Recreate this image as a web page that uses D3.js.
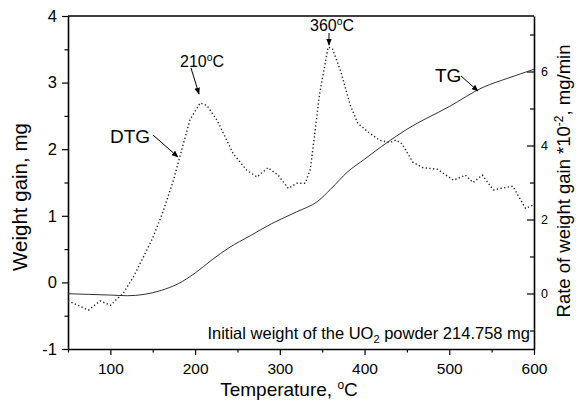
<!DOCTYPE html>
<html><head><meta charset="utf-8">
<script src="https://cdn.jsdelivr.net/npm/d3@7"></script>
<style>
html,body{margin:0;padding:0;background:#fff;}
svg{display:block;font-family:"Liberation Sans",Arial,sans-serif;}
</style></head>
<body>
<svg id="c" width="576" height="402"></svg>
<script>
// TG curve: temperature (°C) and weight gain (mg), left axis
const tgTemp   = [50, 75, 100, 120, 140, 160, 180, 200, 220, 240, 265, 290, 320, 345, 360, 380, 400, 420, 450, 500, 540, 570, 600];
const tgWeight = [-0.17, -0.18, -0.19, -0.2, -0.18, -0.12, -0.02, 0.14, 0.34, 0.52, 0.7, 0.88, 1.06, 1.22, 1.4, 1.66, 1.85, 2.04, 2.3, 2.64, 2.93, 3.07, 3.2];
// DTG curve: temperature (°C) and rate of weight gain (*10^-2 mg/min), right axis
const dtgTemp = [50, 60, 74, 88, 100, 110, 115, 127, 143, 150, 162, 175, 182, 194, 206, 214, 226, 245, 261, 273, 286, 298, 310, 320, 330, 336, 347, 357, 362, 372, 383, 392, 405, 418, 430, 437, 444, 457, 469, 486, 505, 519, 528, 539, 552, 575, 590, 600];
const dtgRate = [-0.2, -0.3, -0.45, -0.2, -0.32, -0.1, 0, 0.44, 1.17, 1.5, 2.2, 3.1, 3.7, 4.7, 5.15, 5.08, 4.68, 3.78, 3.33, 3.15, 3.4, 3.2, 2.84, 2.98, 2.98, 3.35, 5.4, 6.66, 6.62, 6.0, 5.1, 4.6, 4.35, 4.14, 4.08, 4.15, 4.05, 3.55, 3.4, 3.36, 3.06, 3.2, 3.0, 3.2, 2.8, 2.9, 2.3, 2.4];
// Tick values
const xTicks = [100, 200, 300, 400, 500, 600];
const xMinor = [50, 150, 250, 350, 450, 550];
const yLeftTicks = [-1, 0, 1, 2, 3, 4];
const yLeftMinor = [-0.5, 0.5, 1.5, 2.5, 3.5];
const yRightTicks = [0, 2, 4, 6];
const yRightMinor = [-1, 1, 3, 5, 7];

const svg = d3.select("#c");
const L = 68, R = 534, T = 16, B = 349;
const x = d3.scaleLinear().domain([50, 600]).range([L, R]);
const yL = d3.scaleLinear().domain([-1, 4]).range([B, T]);
const yR = d3.scaleLinear().domain([-1.5, 7.5]).range([B, T]);

function styleAxis(g, fs) {
  g.selectAll("path.domain").attr("stroke", "#000").attr("stroke-width", 1.6);
  g.selectAll(".tick line").attr("stroke", "#000").attr("stroke-width", 1.2);
  g.selectAll(".tick text").attr("font-size", fs).attr("fill", "#000").attr("font-family", "Liberation Sans, Arial, sans-serif");
}

// minor ticks
svg.append("g").attr("transform", `translate(0,${B})`)
  .call(d3.axisBottom(x).tickValues(xMinor).tickSize(3.5).tickSizeOuter(0).tickFormat(""))
  .call(g => { g.select("path.domain").remove(); g.selectAll(".tick line").attr("stroke","#000").attr("stroke-width",1.2); });
svg.append("g").attr("transform", `translate(${L},0)`)
  .call(d3.axisLeft(yL).tickValues(yLeftMinor).tickSize(3.5).tickSizeOuter(0).tickFormat(""))
  .call(g => { g.select("path.domain").remove(); g.selectAll(".tick line").attr("stroke","#000").attr("stroke-width",1.2); });
svg.append("g").attr("transform", `translate(${R},0)`)
  .call(d3.axisRight(yR).tickValues(yRightMinor).tickSize(-4).tickSizeOuter(0).tickFormat(""))
  .call(g => { g.select("path.domain").remove(); g.selectAll(".tick line").attr("stroke","#000").attr("stroke-width",1.2); });

// major axes
const xAxis = svg.append("g").attr("transform", `translate(0,${B})`)
  .call(d3.axisBottom(x).tickValues(xTicks).tickSize(6).tickSizeOuter(0).tickPadding(8));
styleAxis(xAxis, 15.5);
const yAxisL = svg.append("g").attr("transform", `translate(${L},0)`)
  .call(d3.axisLeft(yL).tickValues(yLeftTicks).tickSize(6).tickSizeOuter(0).tickPadding(5)
    .tickFormat(d => d < 0 ? "-" + Math.abs(d) : d));
styleAxis(yAxisL, 16.5);
const yAxisR = svg.append("g").attr("transform", `translate(${R},0)`)
  .call(d3.axisRight(yR).tickValues(yRightTicks).tickSize(-7).tickSizeOuter(0).tickPadding(7));
styleAxis(yAxisR, 12.5);

// top frame line
svg.append("line").attr("x1", L).attr("x2", R).attr("y1", T).attr("y2", T)
  .attr("stroke", "#000").attr("stroke-width", 1.6);

// curves
const tgData = tgTemp.map((t, i) => [t, tgWeight[i]]);
const dtgData = dtgTemp.map((t, i) => [t, dtgRate[i]]);
svg.append("path").datum(tgData)
  .attr("d", d3.line().x(d => x(d[0])).y(d => yL(d[1])).curve(d3.curveMonotoneX))
  .attr("fill", "none").attr("stroke", "#333").attr("stroke-width", 1);
svg.append("path").datum(dtgData)
  .attr("d", d3.line().x(d => x(d[0])).y(d => yR(d[1])))
  .attr("fill", "none").attr("stroke", "#222").attr("stroke-width", 1.4)
  .attr("stroke-dasharray", "1.3,2.4");

// arrow marker
svg.append("defs").append("marker").attr("id", "ah").attr("viewBox", "0 0 10 10")
  .attr("refX", 9).attr("refY", 5).attr("markerWidth", 7).attr("markerHeight", 7)
  .attr("markerUnits", "userSpaceOnUse").attr("orient", "auto")
  .append("path").attr("d", "M0,1 L10,5 L0,9 Z").attr("fill", "#000");

function arrow(x1, y1, x2, y2) {
  svg.append("line").attr("x1", x1).attr("y1", y1).attr("x2", x2).attr("y2", y2)
    .attr("stroke", "#000").attr("stroke-width", 1).attr("marker-end", "url(#ah)");
}

// annotations
const ff = "Liberation Sans, Arial, sans-serif";
function degLabel(xp, yp, num, fs) {
  const t = svg.append("text").attr("x", xp).attr("y", yp).attr("font-size", fs).attr("font-family", ff).attr("fill", "#000");
  t.append("tspan").text(num);
  t.append("tspan").attr("dy", -6).attr("font-size", fs * 0.65).text("o");
  t.append("tspan").attr("dy", 6).text("C");
}
degLabel(180, 67, "210", 16);
degLabel(310, 31, "360", 16);
arrow(191, 68, 199, 94);
arrow(329, 33, 329, 45);

svg.append("text").attr("x", 110).attr("y", 143).attr("font-size", 19).attr("font-family", ff).text("DTG");
arrow(153, 135, 178, 157);
svg.append("text").attr("x", 435).attr("y", 82).attr("font-size", 19).attr("font-family", ff).text("TG");
arrow(461, 76, 478, 91);

// initial weight note
const note = svg.append("text").attr("x", 530).attr("y", 339).attr("text-anchor", "end")
  .attr("font-size", 16.5).attr("font-family", ff);
note.append("tspan").text("Initial weight of the UO");
note.append("tspan").attr("dy", 3.5).attr("font-size", 11).text("2");
note.append("tspan").attr("dy", -3.5).text(" powder 214.758 mg");

// axis titles
const xt = svg.append("text").attr("x", 289).attr("y", 396).attr("text-anchor", "middle")
  .attr("font-size", 19).attr("font-family", ff);
xt.append("tspan").text("Temperature, ");
xt.append("tspan").attr("dy", -7).attr("font-size", 12).text("o");
xt.append("tspan").attr("dy", 7).text("C");

svg.append("text").attr("transform", "translate(27,197) rotate(-90)").attr("text-anchor", "middle")
  .attr("font-size", 20.5).attr("font-family", ff).text("Weight gain, mg");

const rt = svg.append("text").attr("transform", "translate(570,181) rotate(-90)").attr("text-anchor", "middle")
  .attr("font-size", 18.5).attr("font-family", ff);
rt.append("tspan").text("Rate of weight gain *10");
rt.append("tspan").attr("dy", -7).attr("font-size", 12).text("-2");
rt.append("tspan").attr("dy", 7).text(", mg/min");
</script>
</body></html>
